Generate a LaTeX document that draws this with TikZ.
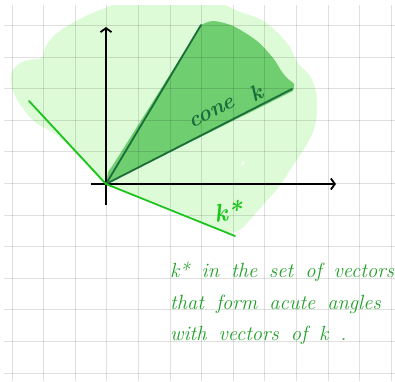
\documentclass[tikz,border=0pt]{standalone}
\usepackage{fontspec}
\usetikzlibrary{arrows.meta}
\definecolor{lightblob}{HTML}{DDFBD7}
\definecolor{conefill}{HTML}{6FCE6F}
\definecolor{conedark}{HTML}{1B6E3C}
\definecolor{kstar}{HTML}{1EC41E}
\definecolor{notegreen}{HTML}{22A02A}
\newcommand\notefont{\fontsize{20.5}{23}\selectfont\itshape\spaceskip=12pt plus 1pt\relax}
\newcommand\conefont{\fontsize{22}{24}\selectfont\bfseries\itshape}
\tikzset{
  gridline/.style={black,opacity=0.12,line width=0.9pt},
  axisline/.style={black,line width=1.8pt,-{Straight Barb[length=4pt,width=11pt,line width=1.8pt]}},
  rayline/.style={conedark,line width=1.8pt,line cap=round},
  kline/.style={kstar,line width=1.8pt,line cap=round},
  notetext/.style={notegreen,anchor=base west,inner sep=0pt,font=\notefont},
  conelabel/.style={conedark,rotate=27,inner sep=0pt,font=\conefont},
}
\begin{document}
\begin{tikzpicture}[x=1pt,y=-1pt]
\useasboundingbox (0,0) rectangle (395,381);
\fill[white] (0,0) rectangle (395,381);
% light blob (dual cone region)
\begin{scope}
\clip (4,5) rectangle (395,381);
\fill[lightblob] plot[smooth cycle, tension=0.55] coordinates {
  (12,72) (22,62) (36,59) (42,58) (46,46) (56,34) (74,22) (100,10) (130,2) (210,2)
  (240,12) (265,22) (287,43) (298,63) (310,76) (316,92) (317,112) (313,132)
  (302,152) (290,170) (278,188) (262,206) (248,222) (236,232) (222,230)
  (180,212) (140,197) (110,186) (100,180) (80,158) (58,136) (35,122) (20,104) (12,88)};
\end{scope}
% cone k fill
\fill[conefill] plot[smooth, tension=0.5] coordinates {
  (201,25) (213,21) (233,26) (257,41) (273,58) (282,72) (288,79) (294,84) (293,91)}
  -- (106,184) -- (108,172) -- (113,165) -- cycle;
% grid
\foreach \i in {0,...,12} \draw[gridline] ({12+31.6*\i},5) -- ({12+31.6*\i},381);
\foreach \j in {0,...,11} \draw[gridline] (4,{25.4+31.6*\j}) -- (395,{25.4+31.6*\j});
% small white mark
\draw[white,line width=1.5pt] (244,161) -- (242,165);
% coordinates
\coordinate (O) at (106,184);
\coordinate (ytop) at (106,27);
\coordinate (ybot) at (106,205);
\coordinate (xleft) at (91,184);
\coordinate (xright) at (336,184);
\coordinate (r1) at (201,25);
\coordinate (r2) at (292,89);
\coordinate (k1) at (29,101);
\coordinate (k2) at (235,236);
% axes
\draw[axisline] (ybot) -- (ytop);
\draw[axisline] (xleft) -- (xright);
% cone rays
\draw[rayline] (O) -- (r1);
\draw[rayline] (O) -- (r2);
% k* lines
\draw[kline] (k1) -- (O) -- (k2);
% labels
\node[conelabel] (conelab) at (212,113) {cone};
\node[conelabel] (conek) at (256,93) {k};
\node[kstar,inner sep=0pt,rotate=8,font=\fontsize{25}{27}\selectfont\bfseries\itshape] (kslab) at (228,211) {k*};
\node[notetext] (n1) at (170,277) {k* in the set of vectors};
\node[notetext] (n2) at (170,309) {that form acute angles};
\node[notetext] (n3) at (170,340) {with vectors of k .};
\end{tikzpicture}
\end{document}
